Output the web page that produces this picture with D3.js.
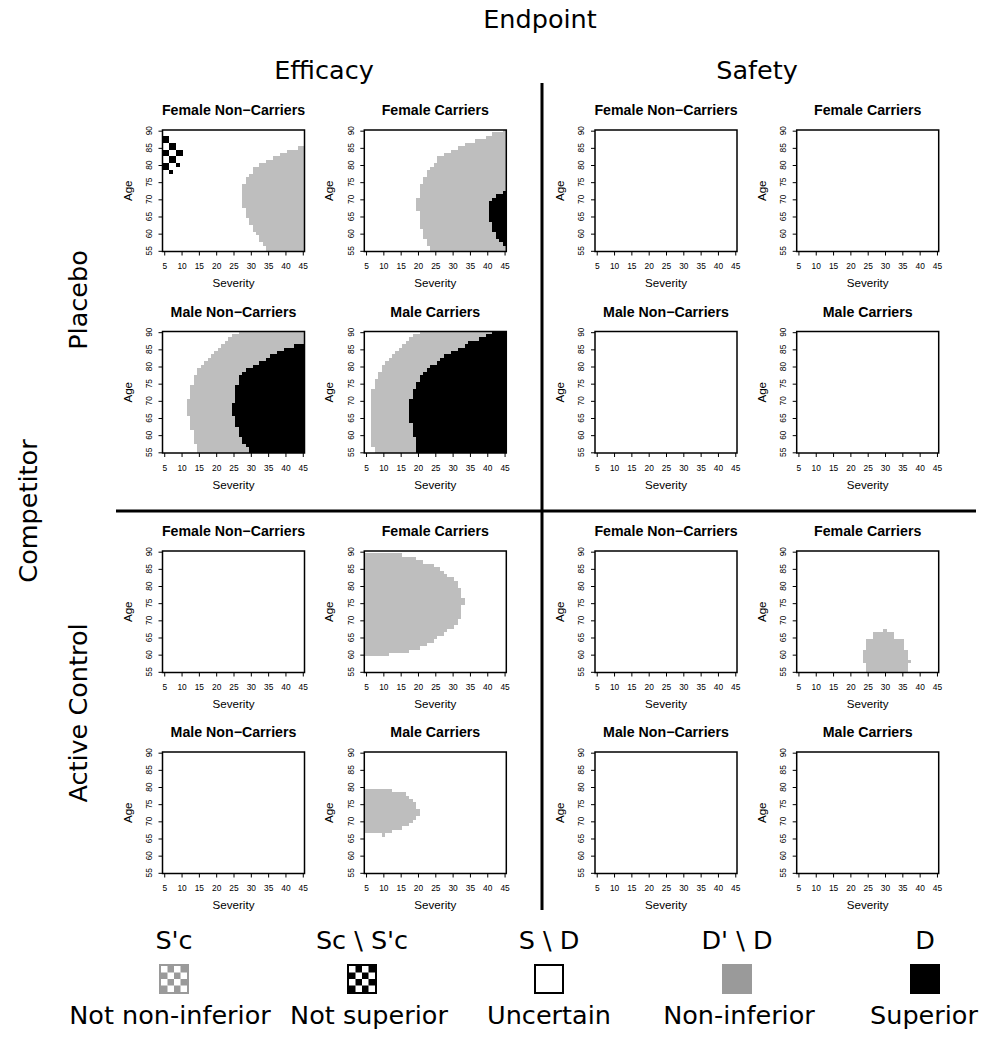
<!DOCTYPE html>
<html>
<head>
<meta charset="utf-8">
<script src="https://cdn.jsdelivr.net/npm/d3@7"></script>
<style>
  body { margin: 0; background: #fff; }
  svg { display: block; }
</style>
</head>
<body>
<div id="chart"></div>
<script>
// Axis ticks
const severityTicks = [5, 10, 15, 20, 25, 30, 35, 40, 45];
const ageTicks = [55, 60, 65, 70, 75, 80, 85, 90];

// Facets
const endpoints = ["Efficacy", "Safety"];
const competitors = ["Placebo", "Active Control"];
const subgroups = ["Female Non\u2212Carriers", "Female Carriers", "Male Non\u2212Carriers", "Male Carriers"];

// Legend
const legendTop = ["S'c", "Sc \\ S'c", "S \\ D", "D' \\ D", "D"];
const legendBottom = ["Not non-inferior", "Not superior", "Uncertain", "Non-inferior", "Superior"];

// Region runs: [age, first severity, last severity]
const effPlaceboFemaleNonGrey = [
  [85, 44, 45], [84, 41, 45], [83, 39, 45], [82, 37, 45], [81, 35, 45], [80, 33, 45],
  [79, 31, 45], [78, 31, 45], [77, 30, 45], [76, 29, 45], [75, 29, 45], [74, 28, 45],
  [73, 28, 45], [72, 28, 45], [71, 28, 45], [70, 28, 45], [69, 28, 45], [68, 28, 45],
  [67, 29, 45], [66, 29, 45], [65, 29, 45], [64, 30, 45], [63, 30, 45], [62, 31, 45],
  [61, 31, 45], [60, 32, 45], [59, 33, 45], [58, 33, 45], [57, 34, 45], [56, 35, 45],
  [55, 35, 45]
];
const effPlaceboFemaleNonBlack = [
  [88, 5, 6], [87, 5, 6], [86, 7, 8], [85, 7, 8], [84, 5, 6], [84, 9, 10],
  [83, 5, 6], [83, 9, 10], [82, 7, 8], [81, 7, 8], [80, 5, 6], [80, 9, 9],
  [79, 5, 6], [78, 7, 7]
];

const effPlaceboFemaleCarGrey = [
  [90, 45, 45], [89, 42, 45], [88, 40, 45], [87, 37, 45], [86, 34, 45], [85, 32, 45],
  [84, 30, 45], [83, 28, 45], [82, 26, 45], [81, 26, 45], [80, 25, 45], [79, 24, 45],
  [78, 23, 45], [77, 23, 45], [76, 22, 45], [75, 22, 45], [74, 21, 45], [73, 21, 45],
  [72, 21, 45], [71, 21, 45], [70, 20, 45], [69, 20, 45], [68, 20, 45], [67, 20, 45],
  [66, 21, 45], [65, 21, 45], [64, 21, 45], [63, 21, 45], [62, 21, 45], [61, 22, 45],
  [60, 22, 45], [59, 22, 45], [58, 23, 45], [57, 23, 45], [56, 24, 45], [55, 24, 45]
];
const effPlaceboFemaleCarBlack = [
  [72, 45, 45], [71, 43, 45], [70, 42, 45], [69, 41, 45], [68, 41, 45], [67, 41, 45],
  [66, 41, 45], [65, 41, 45], [64, 41, 45], [63, 42, 45], [62, 42, 45], [61, 42, 45],
  [60, 43, 45], [59, 43, 45], [58, 44, 45], [57, 45, 45]
];

const effPlaceboMaleNonGrey = [
  [90, 27, 45], [89, 25, 45], [88, 24, 45], [87, 23, 45], [86, 22, 45], [85, 21, 45],
  [84, 20, 45], [83, 19, 45], [82, 18, 45], [81, 17, 45], [80, 16, 45], [79, 15, 45],
  [78, 15, 45], [77, 14, 45], [76, 14, 45], [75, 14, 45], [74, 13, 45], [73, 13, 45],
  [72, 13, 45], [71, 13, 45], [70, 12, 45], [69, 12, 45], [68, 12, 45], [67, 12, 45],
  [66, 12, 45], [65, 13, 45], [64, 13, 45], [63, 13, 45], [62, 13, 45], [61, 14, 45],
  [60, 14, 45], [59, 14, 45], [58, 14, 45], [57, 15, 45], [56, 15, 45], [55, 15, 45]
];
const effPlaceboMaleNonBlack = [
  [86, 43, 45], [85, 40, 45], [84, 38, 45], [83, 36, 45], [82, 35, 45], [81, 33, 45],
  [80, 31, 45], [79, 29, 45], [78, 28, 45], [77, 27, 45], [76, 27, 45], [75, 27, 45],
  [74, 26, 45], [73, 26, 45], [72, 26, 45], [71, 26, 45], [70, 26, 45], [69, 25, 45],
  [68, 25, 45], [67, 25, 45], [66, 25, 45], [65, 26, 45], [64, 26, 45], [63, 26, 45],
  [62, 27, 45], [61, 27, 45], [60, 27, 45], [59, 28, 45], [58, 28, 45], [57, 29, 45],
  [56, 30, 45], [55, 30, 45]
];

const effPlaceboMaleCarGrey = [
  [90, 21, 45], [89, 19, 45], [88, 18, 45], [87, 17, 45], [86, 16, 45], [85, 15, 45],
  [84, 14, 45], [83, 13, 45], [82, 12, 45], [81, 11, 45], [80, 10, 45], [79, 10, 45],
  [78, 9, 45], [77, 9, 45], [76, 8, 45], [75, 8, 45], [74, 8, 45], [73, 7, 45],
  [72, 7, 45], [71, 7, 45], [70, 7, 45], [69, 7, 45], [68, 7, 45], [67, 7, 45],
  [66, 7, 45], [65, 7, 45], [64, 7, 45], [63, 7, 45], [62, 7, 45], [61, 7, 45],
  [60, 7, 45], [59, 7, 45], [58, 7, 45], [57, 7, 45], [56, 8, 45], [55, 8, 45]
];
const effPlaceboMaleCarBlack = [
  [90, 42, 45], [89, 40, 45], [88, 38, 45], [87, 35, 45], [86, 34, 45], [85, 32, 45],
  [84, 30, 45], [83, 28, 45], [82, 27, 45], [81, 26, 45], [80, 24, 45], [79, 23, 45],
  [78, 22, 45], [77, 21, 45], [76, 21, 45], [75, 20, 45], [74, 20, 45], [73, 19, 45],
  [72, 19, 45], [71, 19, 45], [70, 18, 45], [69, 18, 45], [68, 18, 45], [67, 18, 45],
  [66, 18, 45], [65, 18, 45], [64, 18, 45], [63, 19, 45], [62, 19, 45], [61, 19, 45],
  [60, 19, 45], [59, 20, 45], [58, 20, 45], [57, 20, 45], [56, 20, 45], [55, 20, 45]
];

const effActiveFemaleCarGrey = [
  [89, 5, 15], [88, 5, 19], [87, 5, 21], [86, 5, 24], [85, 5, 26], [84, 5, 27],
  [83, 5, 28], [82, 5, 30], [81, 5, 31], [80, 5, 31], [79, 5, 32], [78, 5, 32],
  [77, 5, 32], [76, 5, 33], [75, 5, 33], [74, 5, 32], [73, 5, 32], [72, 5, 32],
  [71, 5, 32], [70, 5, 31], [69, 5, 31], [68, 5, 30], [67, 5, 28], [66, 5, 27],
  [65, 5, 25], [64, 5, 24], [63, 5, 22], [62, 5, 20], [61, 5, 17], [60, 5, 11]
];
const effActiveMaleCarGrey = [
  [79, 5, 12], [78, 5, 16], [77, 5, 17], [76, 5, 18], [75, 5, 19], [74, 5, 19],
  [73, 5, 20], [72, 5, 20], [71, 5, 19], [70, 5, 18], [69, 5, 17], [68, 5, 15],
  [67, 5, 12], [66, 10, 10]
];
const safActiveFemaleCarGrey = [
  [67, 30, 30], [66, 27, 32], [65, 27, 32], [64, 25, 35], [63, 25, 35], [62, 25, 35],
  [61, 24, 36], [60, 24, 36], [59, 24, 36], [58, 24, 37], [57, 25, 36], [56, 25, 36],
  [55, 25, 36]
];

// panel contents keyed by endpoint | competitor | subgroup index
const panelRegions = {
  "Efficacy|Placebo|0": { grey: effPlaceboFemaleNonGrey, black: effPlaceboFemaleNonBlack },
  "Efficacy|Placebo|1": { grey: effPlaceboFemaleCarGrey, black: effPlaceboFemaleCarBlack },
  "Efficacy|Placebo|2": { grey: effPlaceboMaleNonGrey, black: effPlaceboMaleNonBlack },
  "Efficacy|Placebo|3": { grey: effPlaceboMaleCarGrey, black: effPlaceboMaleCarBlack },
  "Efficacy|Active Control|1": { grey: effActiveFemaleCarGrey, black: [] },
  "Efficacy|Active Control|3": { grey: effActiveMaleCarGrey, black: [] },
  "Safety|Active Control|1": { grey: safActiveFemaleCarGrey, black: [] }
};

const width = 984, height = 1039;
const panelW = 142, panelH = 121.5;
const colLeft = [162.5, 364.3, 595, 796.7];
const rowTop = [130, 331.5, 551, 752];
const GREY = "#bebebe";
const bigFont = "'DejaVu Sans', sans-serif";
const bigSize = 25.5;
const smallFont = "'Liberation Sans', Arial, Helvetica, sans-serif";

const svg = d3.select("#chart").append("svg")
  .attr("width", width).attr("height", height)
  .style("background", "#fff");

const x = d3.scaleLinear().domain([4.5, 45.5]).range([0, panelW]);
const y = d3.scaleLinear().domain([54.8, 90.2]).range([panelH, 0]);

let clipId = 0;
function drawPanel(g, title, regions) {
  const id = "clip" + (clipId++);
  g.append("clipPath").attr("id", id)
    .append("rect").attr("width", panelW).attr("height", panelH);

  const cells = g.append("g").attr("clip-path", `url(#${id})`);
  const runRect = (sel, color) => sel
    .attr("x", d => x(d[1] - 0.5))
    .attr("width", d => x(d[2] + 0.5) - x(d[1] - 0.5))
    .attr("y", d => y(d[0] + 0.5))
    .attr("height", d => y(d[0] - 0.5) - y(d[0] + 0.5))
    .attr("fill", color)
    .attr("shape-rendering", "crispEdges");

  if (regions) {
    cells.selectAll("rect.grey").data(regions.grey).join("rect")
      .attr("class", "grey").call(runRect, GREY);
    cells.selectAll("rect.black").data(regions.black).join("rect")
      .attr("class", "black").call(runRect, "#000");
  }

  g.append("rect").attr("width", panelW).attr("height", panelH)
    .attr("fill", "none").attr("stroke", "#000").attr("stroke-width", 1.5);

  // x axis
  const xa = g.append("g").attr("transform", `translate(0,${panelH})`)
    .call(d3.axisBottom(x).tickValues(severityTicks).tickSize(4).tickPadding(8));
  xa.select(".domain").remove();
  xa.selectAll("text").attr("font-family", smallFont).attr("font-size", 8.4).attr("fill", "#000");

  // y axis
  const ya = g.append("g")
    .call(d3.axisLeft(y).tickValues(ageTicks).tickSize(4).tickFormat(""));
  ya.select(".domain").remove();
  g.selectAll("text.ytick").data(ageTicks).join("text")
    .attr("class", "ytick")
    .attr("transform", d => `translate(-13.5,${y(d)}) rotate(-90)`)
    .attr("text-anchor", "middle").attr("dy", "0.35em")
    .attr("font-family", smallFont).attr("font-size", 8.4)
    .text(d => d);

  g.append("text").attr("x", panelW / 2).attr("y", -14.8)
    .attr("text-anchor", "middle").attr("font-family", smallFont)
    .attr("font-weight", "bold").attr("font-size", 14.2).text(title);

  g.append("text").attr("x", panelW / 2).attr("y", panelH + 35.5)
    .attr("text-anchor", "middle").attr("font-family", smallFont)
    .attr("font-size", 11.6).text("Severity");

  g.append("text")
    .attr("transform", `translate(-35,${panelH / 2}) rotate(-90)`)
    .attr("text-anchor", "middle").attr("dy", "0.35em")
    .attr("font-family", smallFont).attr("font-size", 11.6).text("Age");
}

endpoints.forEach((ep, ei) => {
  competitors.forEach((cp, ci) => {
    subgroups.forEach((sg, si) => {
      const col = ei * 2 + (si % 2);
      const row = ci * 2 + Math.floor(si / 2);
      const g = svg.append("g").attr("transform", `translate(${colLeft[col]},${rowTop[row]})`);
      drawPanel(g, sg, panelRegions[`${ep}|${cp}|${si}`]);
    });
  });
});

// Dividers
svg.append("line").attr("x1", 542).attr("x2", 542).attr("y1", 83).attr("y2", 910)
  .attr("stroke", "#000").attr("stroke-width", 3);
svg.append("line").attr("x1", 116).attr("x2", 976).attr("y1", 511).attr("y2", 511)
  .attr("stroke", "#000").attr("stroke-width", 3);

// Outer labels
const bigText = (tx, ty, rot, label) => svg.append("text")
  .attr("transform", `translate(${tx},${ty}) rotate(${rot})`)
  .attr("text-anchor", "middle").attr("font-family", bigFont)
  .attr("font-size", bigSize).text(label);

bigText(540, 28, 0, "Endpoint");
bigText(324, 79, 0, endpoints[0]);
bigText(757, 79, 0, endpoints[1]);
bigText(37, 511, -90, "Competitor");
bigText(87, 300, -90, competitors[0]);
bigText(87, 713, -90, competitors[1]);

// Legend
const legendX = [174, 362, 549, 737, 925];
const legendLabelX = [170, 369, 549, 739, 924];
const sq = 30, legendY = 964;
const legend = svg.append("g");
legendTop.forEach((t, i) => {
  legend.append("text").attr("x", legendX[i]).attr("y", 949)
    .attr("text-anchor", "middle").attr("font-family", bigFont).attr("font-size", bigSize).text(t);
  legend.append("text").attr("x", legendLabelX[i]).attr("y", 1024)
    .attr("text-anchor", "middle").attr("font-family", bigFont).attr("font-size", bigSize).text(legendBottom[i]);
});

function checker(cx, dark) {
  const g = legend.append("g").attr("transform", `translate(${cx - sq / 2},${legendY})`);
  g.append("rect").attr("width", sq).attr("height", sq).attr("fill", "#fff");
  const n = 4, c = (sq - 4) / n;
  const idx = d3.range(n * n);
  g.selectAll("rect.c").data(idx.filter(k => (Math.floor(k / n) + (k % n)) % 2 === 1)).join("rect")
    .attr("class", "c")
    .attr("x", k => 2 + (k % n) * c).attr("y", k => 2 + Math.floor(k / n) * c)
    .attr("width", c).attr("height", c).attr("fill", dark);
  g.append("rect").attr("x", 1).attr("y", 1).attr("width", sq - 2).attr("height", sq - 2)
    .attr("fill", "none").attr("stroke", dark).attr("stroke-width", 2);
}
checker(legendX[0], "#9a9a9a");
checker(legendX[1], "#000");
legend.append("rect").attr("x", legendX[2] - sq / 2 + 1).attr("y", legendY + 1)
  .attr("width", sq - 2).attr("height", sq - 2).attr("fill", "#fff")
  .attr("stroke", "#000").attr("stroke-width", 2);
legend.append("rect").attr("x", legendX[3] - sq / 2).attr("y", legendY)
  .attr("width", sq).attr("height", sq).attr("fill", "#9a9a9a");
legend.append("rect").attr("x", legendX[4] - sq / 2).attr("y", legendY)
  .attr("width", sq).attr("height", sq).attr("fill", "#000");
</script>
</body>
</html>
